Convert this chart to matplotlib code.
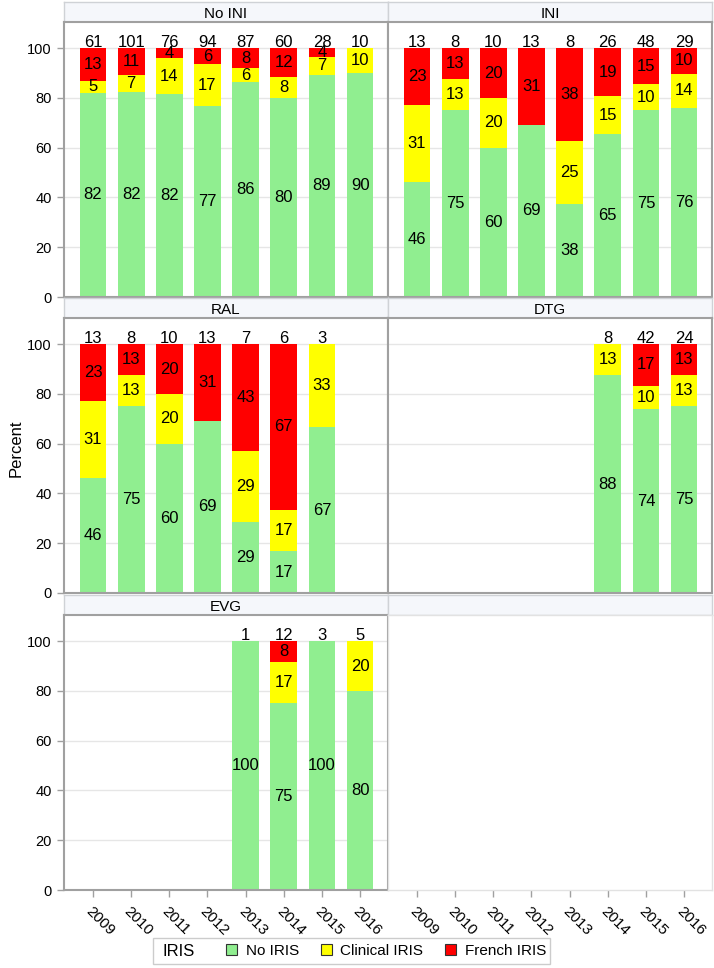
import matplotlib
matplotlib.use('Agg')
import matplotlib.pyplot as plt
from matplotlib.patches import Rectangle, Patch
import numpy as np

plt.rcParams['font.family'] = ['Liberation Sans', 'DejaVu Sans']

nan = np.nan
years = ['2009', '2010', '2011', '2012', '2013', '2014', '2015', '2016']
series_names = ['No IRIS', 'Clinical IRIS', 'French IRIS']
colors = ['#90EE90', '#FFFF00', '#FF0000']

# ---- No INI ----
noini_n = [61, 101, 76, 94, 87, 60, 28, 10]
noini_none = [82.0, 82.2, 81.6, 76.6, 86.2, 80.0, 89.3, 90.0]
noini_clin = [4.9, 6.9, 14.4, 17.0, 5.7, 8.3, 7.1, 10.0]
noini_french = [13.1, 10.9, 4.0, 6.4, 8.0, 11.7, 3.6, 0.0]

# ---- INI ----
ini_n = [13, 8, 10, 13, 8, 26, 48, 29]
ini_none = [46.2, 75.0, 60.0, 69.2, 37.5, 65.4, 75.0, 75.9]
ini_clin = [30.8, 12.5, 20.0, 0.0, 25.0, 15.4, 10.4, 13.8]
ini_french = [23.1, 12.5, 20.0, 30.8, 37.5, 19.2, 14.6, 10.3]

# ---- RAL ----
ral_n = [13, 8, 10, 13, 7, 6, 3, None]
ral_none = [46.2, 75.0, 60.0, 69.2, 28.6, 16.7, 66.7, nan]
ral_clin = [30.8, 12.5, 20.0, 0.0, 28.6, 16.7, 33.3, nan]
ral_french = [23.1, 12.5, 20.0, 30.8, 42.9, 66.7, 0.0, nan]

# ---- DTG ----
dtg_n = [None, None, None, None, None, 8, 42, 24]
dtg_none = [nan, nan, nan, nan, nan, 87.5, 73.8, 75.0]
dtg_clin = [nan, nan, nan, nan, nan, 12.5, 9.5, 12.5]
dtg_french = [nan, nan, nan, nan, nan, 0.0, 16.7, 12.5]

# ---- EVG ----
evg_n = [None, None, None, None, 1, 12, 3, 5]
evg_none = [nan, nan, nan, nan, 100.0, 75.0, 100.0, 80.0]
evg_clin = [nan, nan, nan, nan, 0.0, 16.7, 0.0, 20.0]
evg_french = [nan, nan, nan, nan, 0.0, 8.3, 0.0, 0.0]

panels = [
    ('No INI', noini_n, [noini_none, noini_clin, noini_french]),
    ('INI', ini_n, [ini_none, ini_clin, ini_french]),
    ('RAL', ral_n, [ral_none, ral_clin, ral_french]),
    ('DTG', dtg_n, [dtg_none, dtg_clin, dtg_french]),
    ('EVG', evg_n, [evg_none, evg_clin, evg_french]),
    ('', None, None),
]

W, H = 714, 968
fig = plt.figure(figsize=(W / 100, H / 100), dpi=100)

col_left = [64, 388]
col_w = 324
row_top = [22, 318, 615]
plot_h = 275
hdr_h = 20

spine_col = '#a0a0a0'
hdr_fc = '#f5f7fb'
hdr_ec = '#cfd2d6'


def lab(v):
    return str(int(np.floor(v + 0.5)))


for i, (title, n, segs) in enumerate(panels):
    r, c = divmod(i, 2)
    left = col_left[c] / W
    bottom = 1 - (row_top[r] + plot_h) / H
    hdr = fig.add_axes([left, 1 - row_top[r] / H, col_w / W, hdr_h / H])
    hdr.set_facecolor(hdr_fc)
    hdr.set_xticks([])
    hdr.set_yticks([])
    for s in hdr.spines.values():
        s.set_color(hdr_ec)
        s.set_linewidth(1.0)
    if title:
        hdr.text(0.5, 0.42, title, ha='center', va='center', fontsize=11,
                 transform=hdr.transAxes)

    ax = fig.add_axes([left, bottom, col_w / W, plot_h / H])
    ax.set_xlim(-0.76, 7.73)
    ax.set_ylim(0, 110.5)
    x = np.arange(len(years))
    ax.set_xticks(x)
    ax.set_yticks([0, 20, 40, 60, 80, 100])

    empty = segs is None
    for s in ax.spines.values():
        s.set_color('#e2e2e2' if empty else spine_col)
        s.set_linewidth(1.0 if empty else 1.5)
        s.set_zorder(5)

    if not empty:
        ax.yaxis.grid(True, color='#e6e6e6', linewidth=1.0, zorder=0)
        ax.set_axisbelow(True)
        base = np.zeros(len(years))
        for vals, colr in zip(segs, colors):
            v = np.array(vals, dtype=float)
            mask = (~np.isnan(v)) & (v > 0)
            ax.bar(x[mask], v[mask], 0.7, bottom=base[mask], color=colr,
                   linewidth=0, zorder=2)
            for xi in x[mask]:
                ax.text(xi, base[xi] + v[xi] / 2, lab(v[xi]), ha='center',
                        va='center', fontsize=12, zorder=3)
            base = base + np.nan_to_num(v)
        for xi, ni in enumerate(n):
            if ni is not None:
                ax.text(xi, 100.6, str(ni), ha='center', va='baseline',
                        fontsize=12, zorder=3)

    if c == 0:
        ax.tick_params(axis='y', length=5, width=1, color=spine_col,
                       labelsize=10.5, pad=4)
    else:
        ax.tick_params(axis='y', left=False, labelleft=False)

    if r == 2:
        ax.tick_params(axis='x', length=5, width=1, color=spine_col,
                       labelsize=11, pad=5)
        ax.set_xticklabels(years, rotation=-45, ha='left', va='top',
                           rotation_mode='anchor')
    else:
        ax.tick_params(axis='x', bottom=False, labelbottom=False)

fig.text(16 / W, 1 - 448 / H, 'Percent', rotation=90, ha='center',
         va='center', fontsize=12)

# legend
frame = Rectangle((153 / W, 1 - 964 / H), 397 / W, 26 / H,
                  transform=fig.transFigure, facecolor='white',
                  edgecolor='#cccccc', linewidth=1.0)
fig.patches.append(frame)
fig.text(163 / W, 1 - 951 / H, 'IRIS', ha='left', va='center', fontsize=12)
handles = [Patch(facecolor=cl, edgecolor='#333333', linewidth=0.8)
           for cl in colors]
fig.legend(handles, series_names, ncol=3, loc='center left',
           bbox_to_anchor=(226 / W, 1 - 951 / H), frameon=False,
           fontsize=11, handlelength=0.75, handleheight=0.75,
           handletextpad=0.55, columnspacing=1.4, borderpad=0,
           borderaxespad=0)

fig.savefig('out.png', dpi=100)
